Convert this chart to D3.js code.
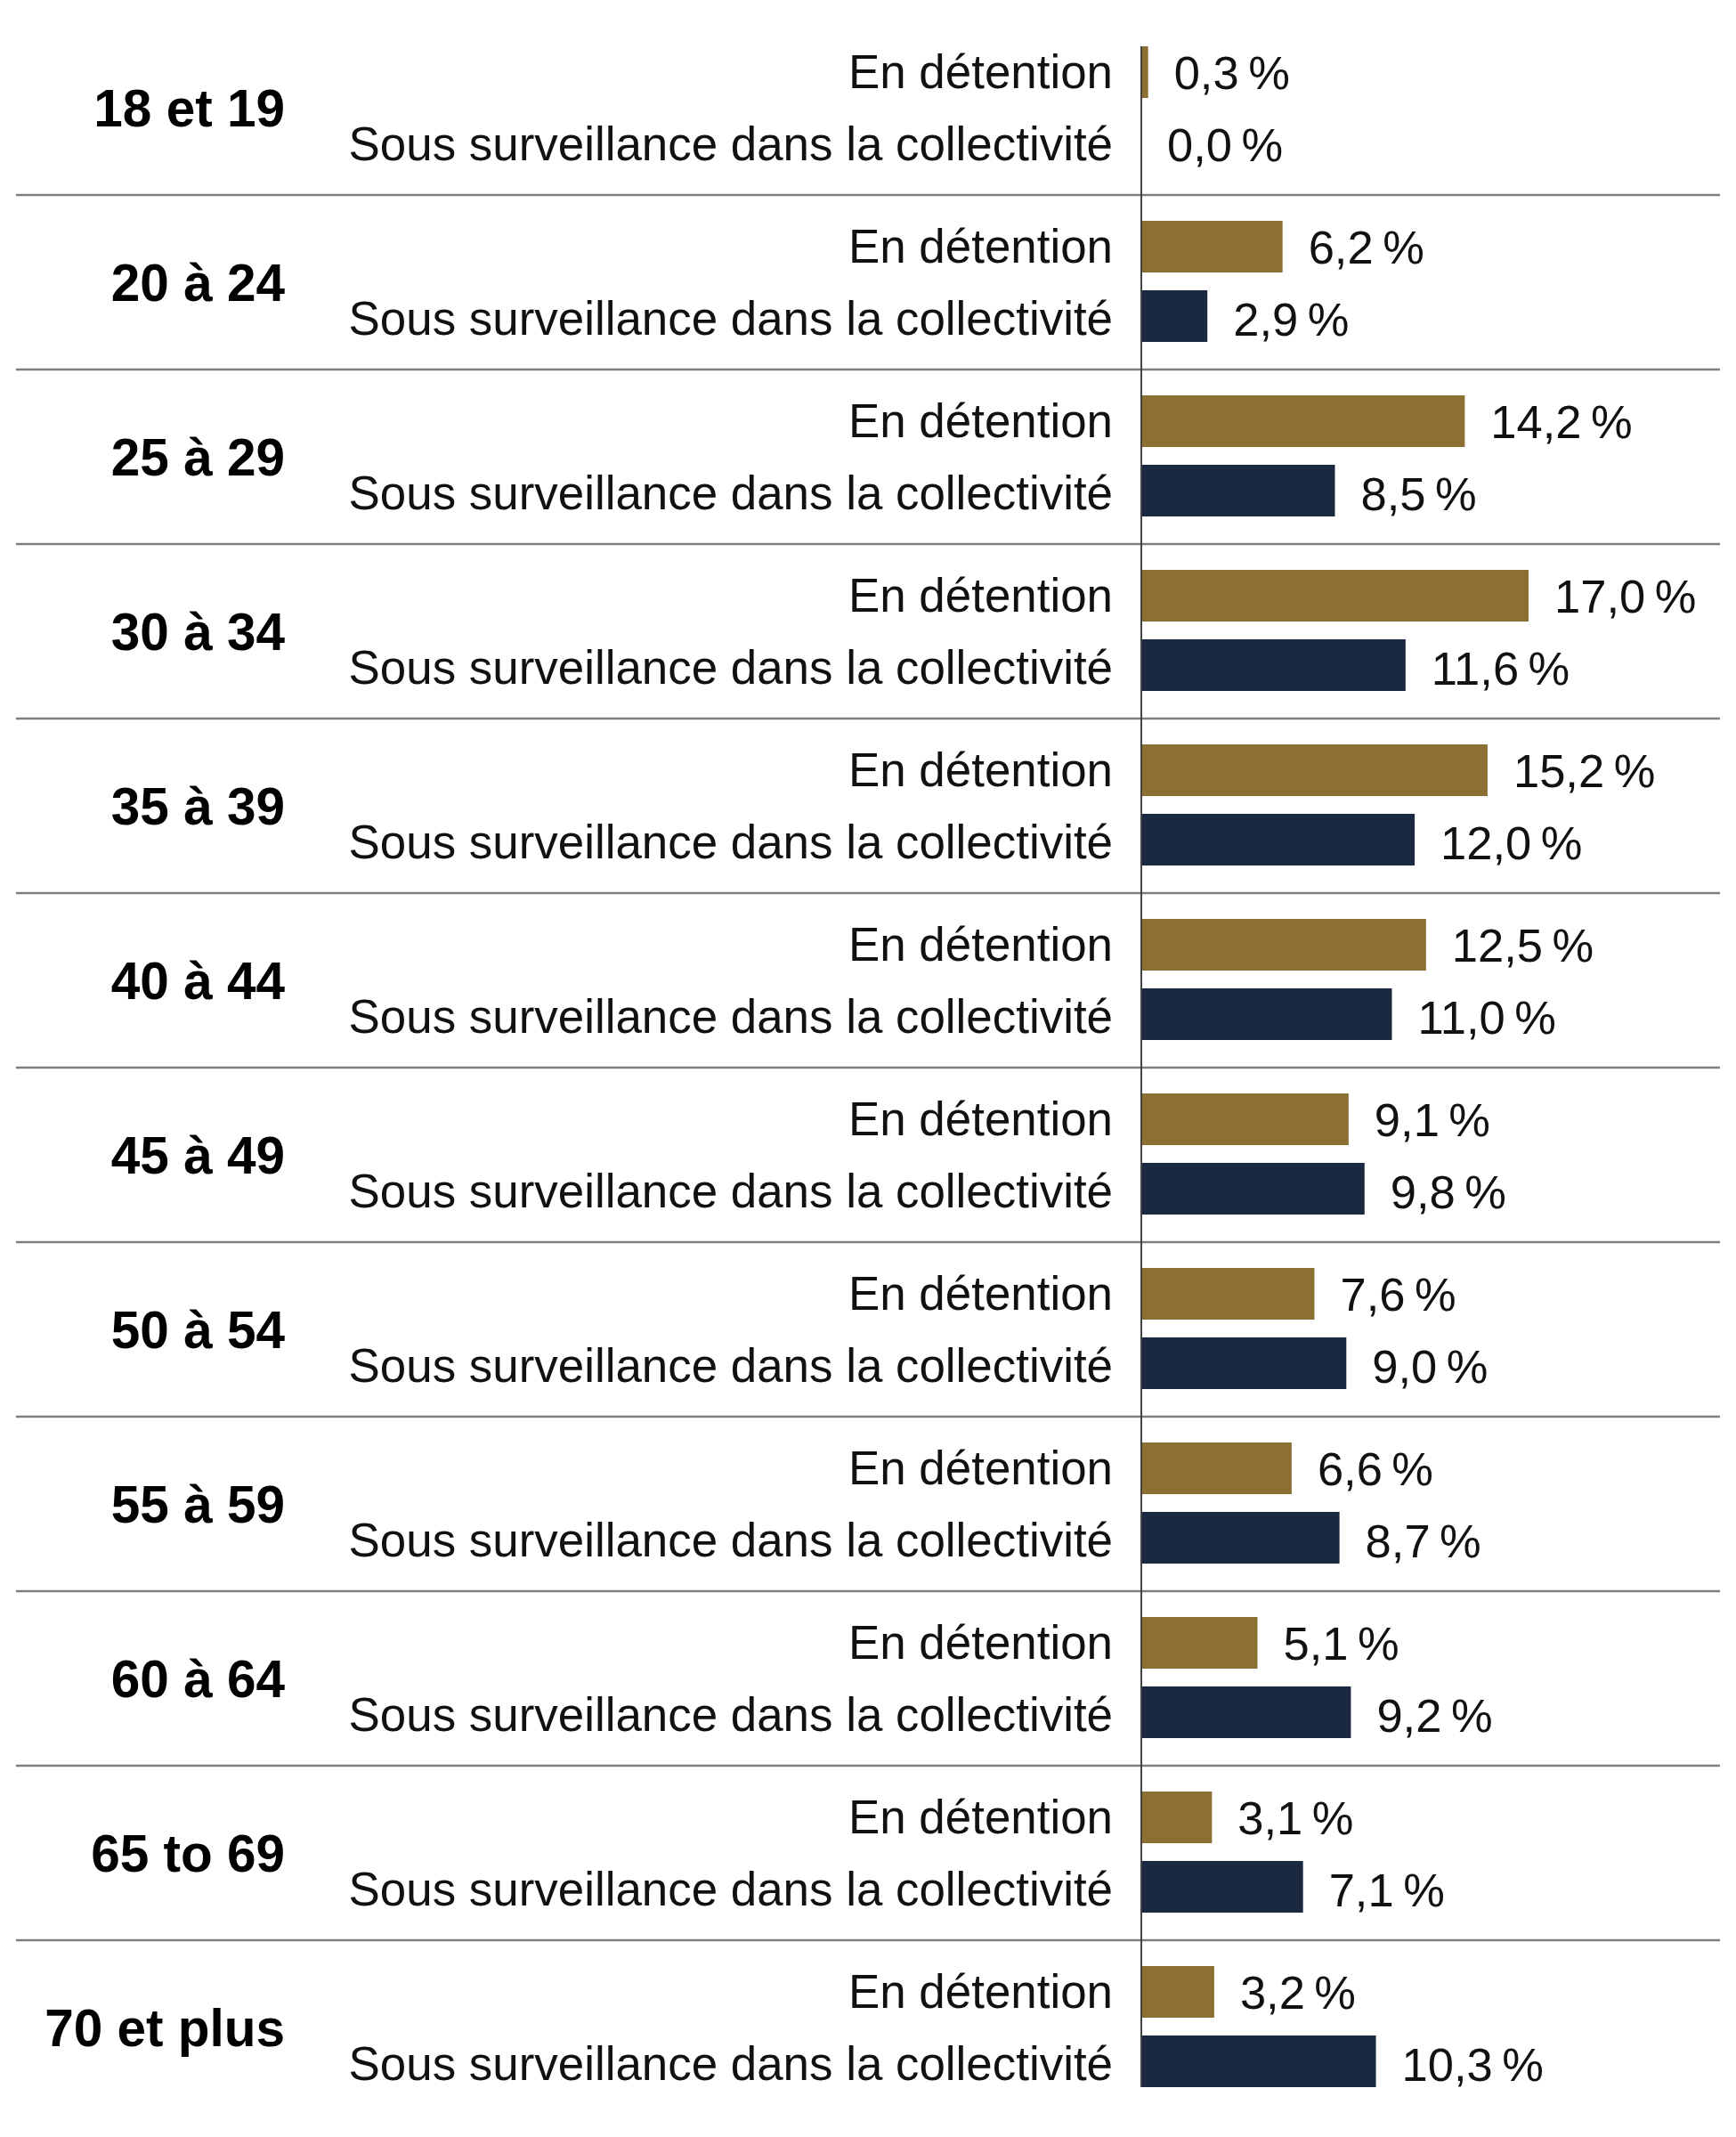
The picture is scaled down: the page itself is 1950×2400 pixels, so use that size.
<!DOCTYPE html>
<html>
<head>
<meta charset="utf-8">
<script src="https://cdn.jsdelivr.net/npm/d3@7"></script>
<style>
  body { margin: 0; background: #fff; }
</style>
</head>
<body>
<div id="chart"></div>
<script>
var ages = ["18 et 19", "20 à 24", "25 à 29", "30 à 34", "35 à 39", "40 à 44",
    "45 à 49", "50 à 54", "55 à 59", "60 à 64", "65 to 69", "70 et plus"];
var seriesNames = ["En détention", "Sous surveillance dans la collectivité"];
var detention = [0.3, 6.2, 14.2, 17.0, 15.2, 12.5, 9.1, 7.6, 6.6, 5.1, 3.1, 3.2];
var surveillance = [0.0, 2.9, 8.5, 11.6, 12.0, 11.0, 9.8, 9.0, 8.7, 9.2, 7.1, 10.3];
var colors = ["#8c6f33", "#1a2840"];

var width = 1950, height = 2400;
var axisX = 1282;
var topY = 23, rowH = 196;

var svg = d3.select("#chart").append("svg")
    .attr("width", width)
    .attr("height", height);

var x = d3.scaleLinear().domain([0, 17]).range([axisX, 1717]);
var row = d3.scaleBand().domain(ages).range([topY, topY + rowH * ages.length]);
var inner = d3.scaleBand().domain([0, 1]).range([29, 165]).paddingInner(0.256);

var fmt = function (v) {
    return d3.format(".1f")(v).replace(".", ",") + "\u202f%";
};

// separators between rows
svg.selectAll("line.sep")
    .data(ages.slice(1))
    .enter().append("line")
    .attr("class", "sep")
    .attr("x1", 18).attr("x2", 1932)
    .attr("y1", function (d) { return row(d); })
    .attr("y2", function (d) { return row(d); })
    .attr("stroke", "#7f7f7f")
    .attr("stroke-width", 2.5);

var groups = svg.selectAll("g.row")
    .data(ages)
    .enter().append("g")
    .attr("class", "row")
    .attr("transform", function (d) { return "translate(0," + row(d) + ")"; });

groups.append("text")
    .attr("x", 320)
    .attr("y", rowH / 2)
    .attr("dy", "0.36em")
    .attr("text-anchor", "end")
    .style("font-family", "'Liberation Sans', Arial, sans-serif")
    .style("font-weight", "bold")
    .style("font-size", "58.5px")
    .attr("fill", "#000")
    .text(function (d) { return d; });

groups.each(function (age, i) {
    var g = d3.select(this);
    var vals = [detention[i], surveillance[i]];
    vals.forEach(function (v, k) {
        var y0 = inner(k);
        var bh = inner.bandwidth();
        var ty = y0 + bh / 2 + (k === 0 ? -1 : 2);
        g.append("rect")
            .attr("x", x(0))
            .attr("y", y0)
            .attr("width", x(v) - x(0))
            .attr("height", bh)
            .attr("fill", colors[k]);
        g.append("text")
            .attr("x", 1250)
            .attr("y", ty)
            .attr("dy", "0.36em")
            .attr("text-anchor", "end")
            .style("font-family", "'Liberation Sans', Arial, sans-serif")
            .style("font-size", "52.9px")
            .attr("fill", "#111")
            .text(seriesNames[k]);
        g.append("text")
            .attr("x", x(v) + 29)
            .attr("y", ty + 1)
            .attr("dy", "0.36em")
            .style("font-family", "'Liberation Sans', Arial, sans-serif")
            .style("font-size", "52.5px")
            .attr("fill", "#111")
            .text(fmt(v));
    });
});

// vertical axis line
svg.append("line")
    .attr("x1", axisX).attr("x2", axisX)
    .attr("y1", topY + 29).attr("y2", topY + rowH * (ages.length - 1) + 165)
    .attr("stroke", "#444")
    .attr("stroke-width", 2);
</script>
</body>
</html>
